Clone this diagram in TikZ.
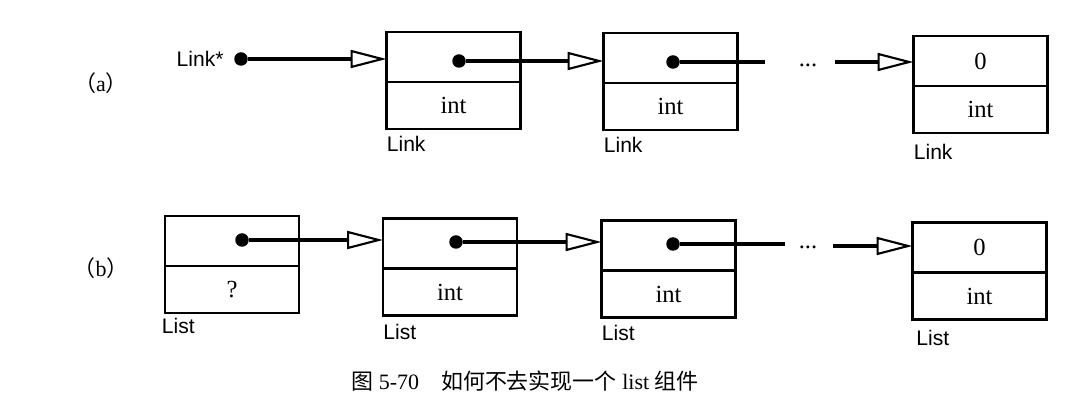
\documentclass[tikz,border=0pt]{standalone}
\usepackage{fontspec}
\setmainfont{Liberation Serif}
\setsansfont{Liberation Sans}
\newfontfamily\cjk{Noto Sans CJK SC}
\usetikzlibrary{arrows.meta,positioning}

\tikzset{
  toppart/.style={draw, line width=1.2pt, rectangle, inner sep=0pt, outer sep=0pt,
    minimum width=2.68cm, minimum height=1.0cm,
    font=\fontsize{14}{16}\selectfont},
  botpart/.style={toppart, minimum height=0.94cm},
  ptr/.style={circle, fill=black, inner sep=0pt, minimum size=0.27cm},
  conn/.style={line width=1.8pt,
    -{Triangle[open, length=0.72cm, width=0.36cm, line width=1.2pt]}},
  tail/.style={line width=1.8pt},
  cellname/.style={font=\sffamily\fontsize{12}{14}\selectfont, inner sep=0pt,
    anchor=north west},
  gap/.style={font=\fontsize{14}{16}\selectfont, inner sep=0pt},
  tag/.style={font=\fontsize{12.5}{14}\selectfont, inner sep=0pt}
}

\begin{document}
\begin{tikzpicture}[x=0.02cm, y=-0.02cm]
\useasboundingbox (0,0) rectangle (1090,418);

% (a) a chain of Link cells
\node[tag] (taga) at (101,83) {{\cjk （}a{\cjk ）}};
\node[ptr] (a0d) at (241,59) {};
\node[font=\sffamily\fontsize{12}{14}\selectfont, inner sep=0pt, left=0.2cm of a0d] (a0n) {Link*};

\node[toppart] (a1t) at (453.5,57) {};
\node[botpart, below=0pt of a1t] (a1b) {int};
\node[ptr] (a1d) at (459,61) {};
\node[cellname] (a1n) at ([yshift=-4pt]a1b.south west) {Link};

\node[toppart] (a2t) at (670.5,58) {};
\node[botpart, below=0pt of a2t] (a2b) {int};
\node[ptr] (a2d) at (673,62) {};
\node[cellname] (a2n) at ([yshift=-4pt]a2b.south west) {Link};

\node[toppart] (a3t) at (980.5,61) {0};
\node[botpart, below=0pt of a3t] (a3b) {int};
\node[cellname] (a3n) at ([yshift=-6pt]a3b.south west) {Link};

\coordinate (a2e) at (765,62);
\node[gap] (agap) at (808,65) {...};
\coordinate (a3s) at (835,62);

\draw[conn] (a0d) -- (a0d -| a1t.west);
\draw[conn] (a1d) -- (a1d -| a2t.west);
\draw[tail] (a2d) -- (a2d -| a2e);
\draw[conn] (a3s) -- (a3s -| a3t.west);

% (b) a chain of List cells
\node[tag] (tagb) at (101,268) {{\cjk （}b{\cjk ）}};

\node[toppart] (b0t) at (232,241) {};
\node[botpart, below=0pt of b0t] (b0b) {?};
\node[ptr] (b0d) at (242,240) {};
\node[cellname] (b0n) at ([xshift=-2pt,yshift=-3pt]b0b.south west) {List};

\node[toppart] (b1t) at (450,243.5) {};
\node[botpart, below=0pt of b1t] (b1b) {int};
\node[ptr] (b1d) at (456,242) {};
\node[cellname] (b1n) at ([yshift=-5pt]b1b.south west) {List};

\node[toppart] (b2t) at (668.5,245.5) {};
\node[botpart, below=0pt of b2t] (b2b) {int};
\node[ptr] (b2d) at (673,244) {};
\node[cellname] (b2n) at ([yshift=-4pt]b2b.south west) {List};

\node[toppart] (b3t) at (979.5,247.5) {0};
\node[botpart, below=0pt of b3t] (b3b) {int};
\node[cellname] (b3n) at ([xshift=2pt,yshift=-6pt]b3b.south west) {List};

\coordinate (b2e) at (785,244);
\node[gap] (bgap) at (808,247) {...};
\coordinate (b3s) at (833,246);

\draw[conn] (b0d) -- (b0d -| b1t.west);
\draw[conn] (b1d) -- (b1d -| b2t.west);
\draw[tail] (b2d) -- (b2d -| b2e);
\draw[conn] (b3s) -- (b3s -| b3t.west);

% caption
\node[tag] (cap) at (525,381) {{\cjk 图} 5-70\quad {\cjk 如何不去实现一个} list {\cjk 组件}};
\end{tikzpicture}
\end{document}
